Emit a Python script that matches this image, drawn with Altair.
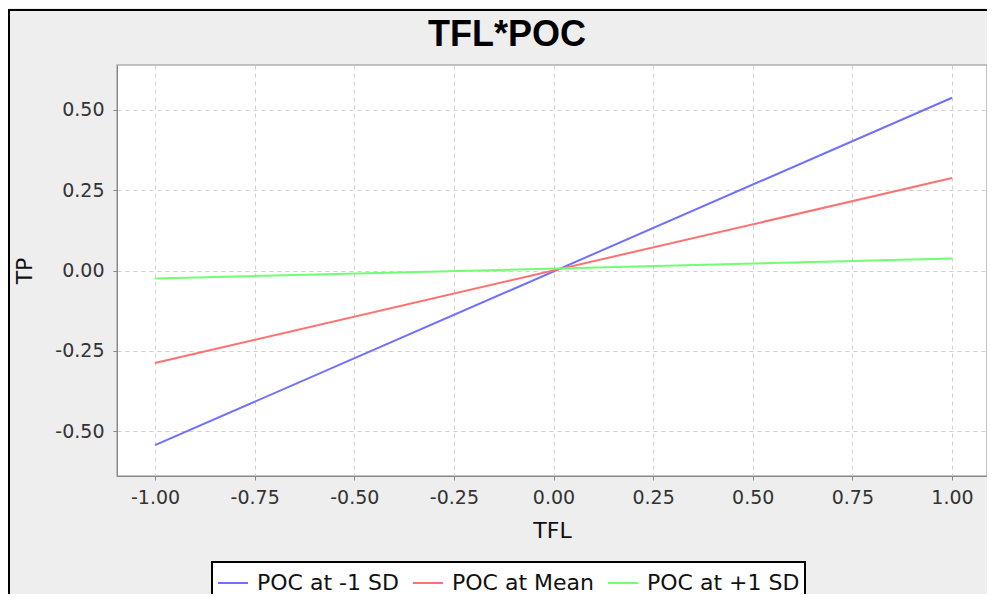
import altair as alt
import pandas as pd

# ---- data ----
tfl = [-1.0, 1.0]
series_names = ["POC at -1 SD", "POC at Mean", "POC at +1 SD"]
poc_low = [-0.544, 0.538]
poc_mean = [-0.288, 0.288]
poc_high = [-0.025, 0.037]
colors = ["#7070ff", "#ff7070", "#70ff70"]
x_ticks = [-1.0, -0.75, -0.5, -0.25, 0.0, 0.25, 0.5, 0.75, 1.0]
y_ticks = [-0.5, -0.25, 0.0, 0.25, 0.5]
chart_title = "TFL*POC"

rows = []
for name, vals in zip(series_names, [poc_low, poc_mean, poc_high]):
    for x, y in zip(tfl, vals):
        rows.append({"TFL": x, "TP": y, "series": name})
df = pd.DataFrame(rows)

font = "DejaVu Sans"
label_expr = "replace(format(datum.value, '.2f'), '\u2212', '-')"

lines = alt.Chart(df).mark_line(strokeWidth=2).encode(
    x=alt.X(
        "TFL:Q",
        scale=alt.Scale(domain=[-1.0954, 1.0878], nice=False, zero=False),
        axis=alt.Axis(values=x_ticks, labelExpr=label_expr, title="TFL",
                      labelPadding=8, titlePadding=13),
    ),
    y=alt.Y(
        "TP:Q",
        scale=alt.Scale(domain=[-0.64, 0.64], nice=False, zero=False),
        axis=alt.Axis(values=y_ticks, labelExpr=label_expr, title="TP",
                      labelPadding=9, titlePadding=18),
    ),
    color=alt.Color(
        "series:N",
        scale=alt.Scale(domain=series_names, range=colors),
        sort=series_names,
        legend=alt.Legend(
            title=None, orient="none", legendX=95, legendY=497,
            direction="horizontal", symbolType="stroke", symbolSize=900,
            symbolStrokeWidth=2, labelFont=font, labelFontSize=22,
            labelColor="#111111", labelOffset=8, columnPadding=10, padding=5,
            strokeColor="black", fillColor="white",
        ),
    ),
)

title_text = alt.Chart(alt.Data(values=[{"t": chart_title}])).mark_text(
    font="Liberation Sans", fontSize=36, fontWeight="bold",
    align="center", baseline="alphabetic", color="black",
).encode(text="t:N", x=alt.value(390), y=alt.value(-19))

frame_data = alt.Data(values=[{"k": 1}])
left_border = alt.Chart(frame_data).mark_rule(color="black", strokeWidth=2).encode(
    x=alt.value(-108), y=alt.value(-56), y2=alt.value(560)
)
top_border = alt.Chart(frame_data).mark_rule(color="black", strokeWidth=2).encode(
    x=alt.value(-109), x2=alt.value(880), y=alt.value(-55)
)

chart = alt.layer(lines, title_text, left_border, top_border).properties(
    width=870,
    height=411,
    autosize=alt.AutoSizeParams(type="none"),
    padding={"left": 109, "top": 57, "right": 0, "bottom": 118},
    background="#eeeeee",
).configure_view(
    stroke="#b0b0b0", strokeWidth=1.5, fill="white"
).configure_axis(
    labelFont=font, labelFontSize=19, labelColor="#333333",
    titleFont=font, titleFontSize=22, titleFontWeight="normal", titleColor="#111111",
    tickColor="#888888", tickSize=4, domainColor="#888888",
    gridColor="#d0d0d0", gridDash=[4, 4], gridWidth=1,
).configure_legend(strokeWidth=2)

chart.save("out.html", embed_options={"renderer": "svg", "actions": False})
